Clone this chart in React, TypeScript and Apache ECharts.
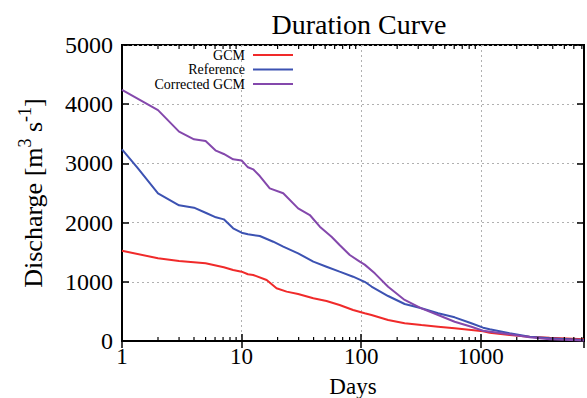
import React, { useEffect, useRef } from "react";
import * as echarts from "echarts";

const seriesNames = ["GCM", "Reference", "Corrected GCM"];
const seriesColors = ["#f02a2a", "#3c52b2", "#8448ac"];

const gcm: [number, number][] = [
  [1, 1525], [2, 1397], [3, 1351], [5, 1312], [7.1, 1245], [8.5, 1199], [10, 1171],
  [11.3, 1127], [12.5, 1115], [16.2, 1030], [19.6, 890], [23.8, 834], [29.7, 794],
  [39.8, 721], [51.3, 676], [66, 608], [85.6, 524], [107, 468], [122, 439], [168, 355],
  [231, 299], [319, 270], [440, 242], [605, 214], [834, 186], [1046, 165], [1187, 140],
  [1743, 101], [2563, 73], [3766, 56], [7300, 29],
];

const reference: [number, number][] = [
  [1, 3238], [1.36, 2917], [2, 2495], [3, 2292], [4, 2252], [5, 2167], [6.1, 2089],
  [7.1, 2055], [8.5, 1903], [10, 1830], [11.3, 1802], [14.2, 1774], [18.4, 1677],
  [22.3, 1593], [29.7, 1481], [39.8, 1340], [51.3, 1255], [66, 1171], [85.6, 1086],
  [107, 1000], [122, 920], [168, 760], [231, 625], [319, 552], [440, 468], [605, 400],
  [834, 299], [1046, 225], [1187, 198], [1743, 130], [2563, 73], [3766, 45], [7300, 17],
];

const corrected: [number, number][] = [
  [1, 4240], [2, 3900], [3, 3536], [4, 3407], [5, 3378], [6.1, 3215], [7.1, 3159],
  [8.5, 3069], [10, 3050], [11.3, 2934], [12.5, 2900], [14.2, 2787], [17.2, 2579],
  [22.3, 2495], [29.7, 2241], [37.2, 2128], [45.1, 1931], [56.5, 1762], [66, 1622],
  [80.3, 1453], [97.3, 1340], [107, 1290], [130, 1143], [168, 917], [231, 693],
  [319, 552], [440, 439], [605, 326], [834, 240], [1046, 174], [1743, 113], [2563, 62],
  [3766, 28], [7300, 10],
];

const minorTickDays = [
  2, 3, 4, 5, 6, 7, 8, 9,
  20, 30, 40, 50, 60, 70, 80, 90,
  200, 300, 400, 500, 600, 700, 800, 900,
  2000, 3000, 4000, 5000, 6000, 7000,
];

const xMin = 1;
const xMax = 7300;
const yMin = 0;
const yMax = 5000;
const yInterval = 1000;

const FONT = "'Liberation Serif', 'DejaVu Serif', serif";

export default function App() {
  const ref = useRef<HTMLDivElement>(null);
  useEffect(() => {
    if (!ref.current) return;
    const chart = echarts.init(ref.current, undefined, { renderer: "svg" });
    const datasets = [gcm, reference, corrected];
    const logLabel = (v: number) => {
      const l = Math.log10(v);
      return Math.abs(l - Math.round(l)) < 1e-6 ? String(Math.round(v)) : "";
    };
    const splitStyle = { color: "#b0b0b0", type: [2, 3] as any, width: 1 };
    const axisLineStyle = { color: "#000", width: 2 };
    const tickStyle = { color: "#000", width: 1.5 };
    const option: any = {
      animation: false,
      backgroundColor: "#fff",
      title: {
        text: "Duration Curve",
        left: 354,
        top: 5,
        textAlign: "center",
        textStyle: { fontFamily: FONT, fontSize: 28, fontWeight: "normal", color: "#000" },
      },
      legend: seriesNames.map((n, i) => ({
        data: [n],
        right: 294,
        top: 48 + i * 14.5,
        orient: "vertical",
        align: "right",
        padding: 0,
        icon: "rect",
        itemWidth: 40,
        itemHeight: 2,
        itemGap: 0,
        selectedMode: false,
        textStyle: { fontFamily: FONT, fontSize: 14, color: "#000", padding: [0, 3, 0, 0] },
      })),
      grid: {
        left: 122,
        right: 3,
        top: 45,
        bottom: 57,
        show: true,
        borderColor: "#000",
        borderWidth: 2,
        backgroundColor: "transparent",
        containLabel: false,
        outerBoundsMode: "none",
      },
      xAxis: [
        {
          type: "log",
          logBase: 10,
          min: xMin,
          max: xMax,
          name: "Days",
          nameLocation: "middle",
          nameGap: 34,
          nameTextStyle: { fontFamily: FONT, fontSize: 23, color: "#000" },
          axisLine: { show: true, lineStyle: axisLineStyle },
          axisTick: { show: true, inside: true, length: 7, lineStyle: tickStyle },
          axisLabel: {
            formatter: logLabel,
            fontFamily: FONT,
            fontSize: 23,
            color: "#000",
            margin: 4,
            showMaxLabel: false,
          },
          splitLine: { show: true, lineStyle: splitStyle },
        },
        {
          type: "log",
          logBase: 10,
          min: xMin,
          max: xMax,
          position: "top",
          axisLine: { show: true, lineStyle: axisLineStyle },
          axisTick: { show: true, inside: true, length: 7, lineStyle: tickStyle },
          axisLabel: { show: false },
          splitLine: { show: false },
        },
      ],
      yAxis: [
        {
          type: "value",
          min: yMin,
          max: yMax,
          interval: yInterval,
          name: "{a|Discharge [m}{s|3}{a| s}{s|-1}{a|]}",
          nameLocation: "middle",
          nameGap: 76,
          nameRotate: 90,
          nameTextStyle: {
            fontFamily: FONT,
            color: "#000",
            rich: {
              a: { fontFamily: FONT, fontSize: 26, color: "#000", lineHeight: 30, verticalAlign: "bottom" },
              s: { fontFamily: FONT, fontSize: 18, color: "#000", lineHeight: 30, verticalAlign: "top" },
            },
          },
          axisLine: { show: true, lineStyle: axisLineStyle },
          axisTick: { show: true, inside: true, length: 7, lineStyle: tickStyle },
          axisLabel: {
            formatter: (v: number) => String(v),
            fontFamily: FONT,
            fontSize: 24,
            color: "#000",
            margin: 9,
          },
          splitLine: { show: true, lineStyle: splitStyle },
        },
        {
          type: "value",
          min: yMin,
          max: yMax,
          interval: yInterval,
          position: "right",
          axisLine: { show: true, lineStyle: axisLineStyle },
          axisTick: { show: true, inside: true, length: 7, lineStyle: tickStyle },
          axisLabel: { show: false },
          splitLine: { show: false },
        },
      ],
      series: [
        ...seriesNames.map((n, i) => ({
          name: n,
          type: "line",
          xAxisIndex: 0,
          yAxisIndex: 0,
          data: datasets[i],
          symbol: "none",
          showSymbol: false,
          color: seriesColors[i],
          lineStyle: { color: seriesColors[i], width: 2 },
          z: 3 + i,
        })),
        {
          type: "custom",
          name: "minorTicks",
          xAxisIndex: 0,
          yAxisIndex: 0,
          silent: true,
          clip: false,
          z: 10,
          data: minorTickDays.map((d) => [d, yMin]),
          renderItem: (params: any, api: any) => {
            const d = api.value(0);
            const b = api.coord([d, yMin]);
            const t = api.coord([d, yMax]);
            const st = { stroke: "#000", lineWidth: 1.2, fill: null };
            return {
              type: "group",
              children: [
                { type: "line", shape: { x1: b[0], y1: b[1], x2: b[0], y2: b[1] - 4 }, style: st },
                { type: "line", shape: { x1: t[0], y1: t[1], x2: t[0], y2: t[1] + 4 }, style: st },
              ],
            };
          },
        },
      ],
    };
    chart.setOption(option);
    return () => chart.dispose();
  }, []);
  return <div ref={ref} style={{ width: 587, height: 398, position: "absolute", left: 0, top: 0 }} />;
}
